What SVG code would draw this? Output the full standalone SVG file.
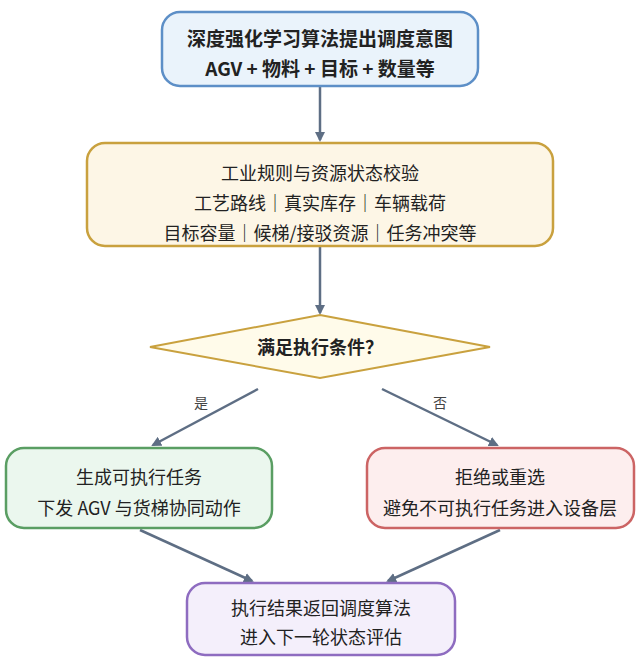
<svg xmlns="http://www.w3.org/2000/svg" width="641" height="663" viewBox="0 0 641 663">
<style>
text{font-family:"Noto Sans CJK SC","Noto Sans",sans-serif;font-size:18px;fill:#222;text-anchor:middle}
.b{font-weight:bold;font-size:19px}
.c{stroke:#5e6e84;stroke-width:2.5;fill:none;marker-end:url(#a)}
.l{font-size:14px;fill:#444}
</style>
<defs><marker id="a" markerWidth="10" markerHeight="10" refX="8" refY="5" orient="auto" markerUnits="userSpaceOnUse"><path d="M0,0L10,5L0,10z" fill="#5e6e84"/></marker></defs>
<rect width="641" height="663" fill="#fff"/>
<g id="connectors">
<line class="c" x1="320" y1="87" x2="320" y2="140"/>
<line class="c" x1="320" y1="247" x2="320" y2="313"/>
<line class="c" x1="258" y1="389" x2="153" y2="445"/>
<line class="c" x1="382" y1="389" x2="497" y2="445"/>
<line class="c" x1="140" y1="530" x2="252" y2="581"/>
<line class="c" x1="500" y1="530" x2="388" y2="581"/>
<text class="l" x="201" y="408">是</text>
<text class="l" x="440" y="408">否</text>
</g>
<g id="n1"><rect x="162" y="12" width="316" height="74" rx="18" fill="#eaf3fb" stroke="#5d8fc7" stroke-width="2.5"/>
<text class="b" x="320" y="46">深度强化学习算法提出调度意图</text><text class="b" x="320" y="76">AGV + 物料 + 目标 + 数量等</text></g>
<g id="n2"><rect x="87" y="143" width="466" height="103" rx="18" fill="#fdf6e6" stroke="#c9a13e" stroke-width="2.5"/>
<text x="320" y="180">工业规则与资源状态校验</text><text x="320" y="210">工艺路线｜真实库存｜车辆载荷</text><text x="320" y="240">目标容量｜候梯/接驳资源｜任务冲突等</text></g>
<g id="n3"><polygon points="320,315 490,347 320,378 150,347" fill="#fffbea" stroke="#c9a13e" stroke-width="2"/>
<text class="b" x="320" y="354" style="font-size:18px">满足执行条件？</text></g>
<g id="n4"><rect x="6" y="448" width="266" height="80" rx="18" fill="#ebf7ee" stroke="#5a9e63" stroke-width="2.5"/>
<text x="139" y="484">生成可执行任务</text><text x="139" y="515">下发 AGV 与货梯协同动作</text></g>
<g id="n5"><rect x="367" y="448" width="267" height="80" rx="18" fill="#fdeeee" stroke="#cc6464" stroke-width="2.5"/>
<text x="500" y="484">拒绝或重选</text><text x="500" y="515">避免不可执行任务进入设备层</text></g>
<g id="n6"><rect x="187" y="583" width="268" height="72" rx="18" fill="#f4effb" stroke="#8e6cc0" stroke-width="2.5"/>
<text x="321" y="615">执行结果返回调度算法</text><text x="321" y="644">进入下一轮状态评估</text></g>
</svg>
